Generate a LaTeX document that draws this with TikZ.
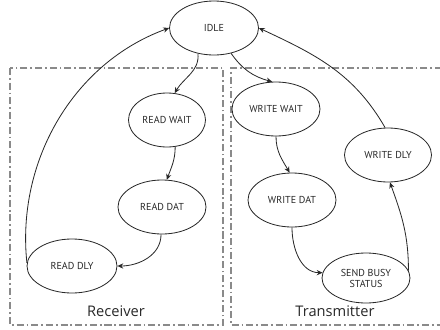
\documentclass[tikz,border=0pt]{standalone}
\usepackage{fontspec}
\setmainfont{PT Sans}
\newfontfamily\labelfont{Open Sans}
\usetikzlibrary{shapes.geometric,arrows.meta}
\definecolor{ink}{HTML}{282828}
\definecolor{frame}{HTML}{8A8A8A}
\begin{document}
\begin{tikzpicture}[x=0.03cm,y=-0.03cm,
  state/.style 2 args={draw=ink,line width=0.7pt,ellipse,inner sep=0pt,
    minimum width=#1*0.03cm,minimum height=#2*0.03cm,
    font=\fontsize{8.6}{9.4}\selectfont,text=ink,align=center},
  trans/.style={draw=ink,line width=0.7pt,-{Stealth[length=5pt,width=4.5pt]}},
  region/.style={draw=frame,line width=1.1pt,
    dash pattern=on 6pt off 2.5pt on 1.5pt off 2.5pt},
  regionlabel/.style={font=\labelfont\fontsize{12.5}{14}\selectfont,text=ink}]
  \useasboundingbox (0,0) rectangle (440,329);

  % receiver and transmitter regions
  \draw[region] (10,68) rectangle (223,325);
  \draw[region] (442,68) -- (231,68) -- (231,325) -- (442,325);
  \node[regionlabel] (rxlabel) at (116,311) {Receiver};
  \node[regionlabel] (txlabel) at (335,311) {Transmitter};

  % states
  \node[state={89}{54}] (idle)   at (214,28)  {IDLE};
  \node[state={77}{54}] (rwait)  at (167,120) {READ WAIT};
  \node[state={88}{54}] (rdat)   at (162,207) {READ DAT};
  \node[state={90}{54}] (rdly)   at (72,266)  {READ DLY};
  \node[state={88}{54}] (wwait)  at (276,109) {WRITE WAIT};
  \node[state={87}{54}] (wdly)   at (388,155) {WRITE DLY};
  \node[state={88}{54}] (wdat)   at (292,200) {WRITE DAT};
  \node[state={88}{50}] (busy)   at (366,278) {SEND BUSY\\STATUS};

  % receiver path
  \draw[trans] (idle.238) to[out=-85,in=60] (rwait.74);
  \draw[trans] (rwait.287) to[out=-90,in=70] (rdat.80);
  \draw[trans] (rdat.268) to[out=-90,in=0] (rdly.east);
  \draw[trans] (rdly.176) to[out=96,in=200,looseness=0.95] (idle.west);

  % transmitter path
  \draw[trans] (idle.304) to[out=-55,in=165] (wwait.98);
  \draw[trans] (wwait.270) to[out=-90,in=120] (wdat.95);
  \draw[trans] (wdat.270) to[out=-90,in=180] (busy.173);
  \draw[trans] (busy.10) to[out=90,in=-70] (wdly.274);
  \draw[trans] (wdly.96) to[out=120,in=-25] (idle.east);
\end{tikzpicture}
\end{document}
